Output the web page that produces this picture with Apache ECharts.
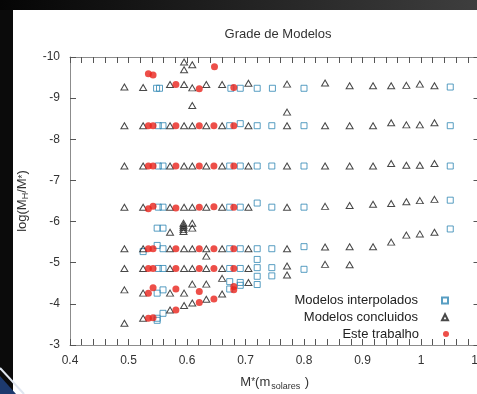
<!DOCTYPE html>
<html>
<head>
<meta charset="utf-8">
<script src="https://cdn.jsdelivr.net/npm/echarts@6/dist/echarts.min.js"></script>
<style>
  html, body { margin: 0; padding: 0; background: #0b0b0b; }
  #main { width: 477px; height: 394px; }
</style>
</head>
<body>
<div id="main"></div>
<script>
const seriesNames = ["Modelos interpolados", "Modelos concluidos", "Este trabalho"];
const xTickLabels = ["0.4", "0.5", "0.6", "0.7", "0.8", "0.9", "1", "1.1"];
const yTickLabels = ["-10", "-9", "-8", "-7", "-6", "-5", "-4", "-3"];

// [M*, log(MH/M*)]
const interpolados = [
  [0.548, -9.24], [0.553, -9.24], [0.675, -9.24], [0.691, -9.24], [0.72, -9.24], [0.746, -9.24], [0.8, -9.24], [1.05, -9.27],
  [0.551, -8.33], [0.559, -8.33], [0.673, -8.33], [0.691, -8.38], [0.72, -8.33], [0.745, -8.33], [0.8, -8.33], [1.05, -8.33],
  [0.551, -7.35], [0.559, -7.35], [0.673, -7.35], [0.691, -7.35], [0.72, -7.35], [0.745, -7.35], [0.8, -7.35], [1.05, -7.35],
  [0.551, -6.35], [0.559, -6.35], [0.673, -6.35], [0.691, -6.35], [0.72, -6.45], [0.745, -6.35], [0.8, -6.35], [1.05, -6.52],
  [0.549, -5.84], [0.559, -5.84],
  [0.525, -5.27], [0.549, -5.42], [0.559, -5.34], [0.673, -5.34], [0.691, -5.34], [0.72, -5.34], [0.745, -5.34], [0.8, -5.39], [1.05, -5.82],
  [0.72, -5.08],
  [0.551, -4.86], [0.559, -4.86], [0.673, -4.86], [0.691, -4.86], [0.72, -4.88], [0.745, -4.88], [0.8, -4.84],
  [0.72, -4.67], [0.72, -4.47], [0.745, -4.68], [0.673, -4.54], [0.673, -4.36], [0.691, -4.52], [0.691, -4.45],
  [0.549, -4.26], [0.559, -4.34],
  [0.549, -3.65], [0.549, -3.6], [0.559, -3.77]
];

const concluidos = [
  [0.493, -9.27], [0.525, -9.26], [0.571, -9.33], [0.595, -9.33], [0.609, -9.25], [0.633, -9.33], [0.66, -9.33], [0.705, -9.36],
  [0.771, -9.34], [0.836, -9.37], [0.878, -9.3], [0.918, -9.3], [0.949, -9.3], [0.975, -9.31], [0.998, -9.34], [1.023, -9.3],
  [0.595, -9.88], [0.595, -9.69], [0.609, -9.81], [0.609, -8.82], [0.771, -8.66],
  [0.493, -8.33], [0.525, -8.33], [0.571, -8.33], [0.595, -8.33], [0.609, -8.33], [0.633, -8.33], [0.66, -8.33], [0.705, -8.33],
  [0.771, -8.33], [0.836, -8.33], [0.878, -8.33], [0.918, -8.33], [0.949, -8.4], [0.975, -8.35], [0.998, -8.35], [1.023, -8.4],
  [0.493, -7.35], [0.525, -7.35], [0.571, -7.35], [0.595, -7.35], [0.609, -7.35], [0.633, -7.35], [0.66, -7.35], [0.705, -7.35],
  [0.771, -7.35], [0.836, -7.35], [0.878, -7.35], [0.918, -7.35], [0.949, -7.41], [0.975, -7.37], [0.998, -7.37], [1.023, -7.41],
  [0.493, -6.35], [0.525, -6.35], [0.571, -6.35], [0.595, -6.35], [0.609, -6.35], [0.633, -6.35], [0.66, -6.35], [0.705, -6.35],
  [0.771, -6.35], [0.836, -6.37], [0.878, -6.39], [0.918, -6.42], [0.949, -6.44], [0.975, -6.48], [0.998, -6.51], [1.023, -6.54],
  [0.571, -5.74], [0.594, -5.96], [0.594, -5.91], [0.594, -5.86], [0.594, -5.81], [0.594, -5.76], [0.609, -5.96], [0.609, -5.84],
  [0.493, -5.34], [0.525, -5.34], [0.571, -5.34], [0.595, -5.34], [0.609, -5.34], [0.633, -5.34], [0.66, -5.34], [0.705, -5.34],
  [0.771, -5.34], [0.836, -5.38], [0.878, -5.39], [0.918, -5.39], [0.949, -5.5], [0.975, -5.67], [0.998, -5.7], [1.023, -5.74],
  [0.633, -5.16],
  [0.493, -4.86], [0.525, -4.86], [0.571, -4.86], [0.595, -4.86], [0.609, -4.86], [0.633, -4.86], [0.66, -4.86], [0.705, -4.86],
  [0.771, -4.92], [0.771, -4.7], [0.836, -4.96], [0.878, -4.95],
  [0.66, -4.62], [0.66, -4.24], [0.705, -4.52],
  [0.493, -4.34], [0.525, -4.26], [0.571, -4.26], [0.595, -4.26], [0.609, -4.48], [0.633, -4.48],
  [0.493, -3.53], [0.525, -3.65], [0.571, -3.85], [0.595, -3.96], [0.609, -4.02], [0.633, -4.11]
];

const trabalho = [
  [0.534, -9.59], [0.542, -9.56], [0.647, -9.76],
  [0.581, -9.33], [0.621, -9.23], [0.68, -9.26],
  [0.534, -8.33], [0.542, -8.33], [0.581, -8.33], [0.621, -8.33], [0.646, -8.33], [0.68, -8.33],
  [0.534, -7.35], [0.542, -7.35], [0.581, -7.35], [0.621, -7.35], [0.646, -7.35], [0.68, -7.35],
  [0.534, -6.31], [0.542, -6.37], [0.581, -6.33], [0.621, -6.35], [0.646, -6.36], [0.68, -6.35],
  [0.534, -5.34], [0.542, -5.34], [0.581, -5.34], [0.621, -5.34], [0.646, -5.34], [0.68, -5.34],
  [0.534, -4.86], [0.542, -4.86], [0.581, -4.86], [0.621, -4.86], [0.646, -4.86], [0.68, -4.86],
  [0.534, -4.26], [0.542, -4.39], [0.581, -4.36], [0.621, -4.3], [0.68, -4.42], [0.68, -4.34],
  [0.534, -3.65], [0.542, -3.66], [0.581, -3.85], [0.621, -4.03], [0.646, -4.12]
];

const font = "Liberation Sans";
const axisGray = "#8c8c8c";

const xAxisBase = {
  type: "value", min: 0.4, max: 1.1, interval: 0.1,
  axisLine: { lineStyle: { color: axisGray } },
  axisTick: { inside: true, length: 6, lineStyle: { color: "#555" } },
  minorTick: { show: true, splitNumber: 5, length: 6, lineStyle: { color: "#555" } },
  splitLine: { show: false }
};
const yAxisBase = {
  type: "value", min: -10, max: -3, interval: 1, inverse: true,
  axisLine: { show: true, lineStyle: { color: axisGray } },
  axisTick: { show: true, inside: true, length: 6, lineStyle: { color: "#555" } },
  splitLine: { show: false }
};

const chart = echarts.init(document.getElementById("main"));
chart.setOption({
  animation: false,
  backgroundColor: "#0b0b0b",
  textStyle: { fontFamily: font },
  graphic: [
    { type: "rect", z: -10, shape: { x: 0, y: 0, width: 477, height: 10 },
      style: { fill: new echarts.graphic.LinearGradient(0, 0, 1, 0, [
        { offset: 0, color: "#050505" }, { offset: 1, color: "#3e3e3e" }]) } },
    { type: "rect", z: -10, shape: { x: 13, y: 10, width: 464, height: 384 }, style: { fill: "#fff" } },
    { type: "polygon", z: -9, shape: { points: [[0, 376], [0, 394], [16, 394]] }, style: { fill: "#1d3a6e" } },
    { type: "line", z: -9, shape: { x1: 0, y1: 368, x2: 24, y2: 394 }, style: { stroke: "#dfe6f0", lineWidth: 2 } }
  ],
  title: {
    text: "Grade de Modelos", left: 273, top: 23, textAlign: "center",
    textStyle: { fontSize: 13, fontWeight: "normal", color: "#333", fontFamily: font }
  },
  legend: seriesNames.map((n, i) => ({
    data: [n], orient: "vertical", align: "right", right: 28, top: 294 + i * 16.8,
    padding: 0, itemWidth: 6, itemHeight: 6, itemGap: 0,
    textStyle: { fontSize: 13, color: "#222", fontFamily: font, padding: [0, 19, 0, 0] }
  })),
  grid: { left: 70, right: -2.5, top: 57, bottom: 49, outerBoundsMode: "none" },
  xAxis: [
    Object.assign({}, xAxisBase, {
      position: "bottom",
      axisLabel: { color: "#333", fontSize: 12, margin: 10, formatter: v => xTickLabels[Math.round((v - 0.4) * 10)] },
      name: "{n|M}{a|*}{n|(m}{s|solares}{n| )}", nameLocation: "middle", nameGap: 29,
      nameTextStyle: { rich: {
        n: { fontSize: 13, color: "#333", fontFamily: font },
        a: { fontSize: 10, color: "#333", fontFamily: font },
        s: { fontSize: 9, color: "#333", fontFamily: font, padding: [8, 1, 0, 1] }
      } }
    }),
    Object.assign({}, xAxisBase, { position: "top", axisLabel: { show: false } })
  ],
  yAxis: [
    Object.assign({}, yAxisBase, {
      position: "left",
      axisLabel: { color: "#333", fontSize: 12, margin: 10, formatter: v => yTickLabels[Math.round(v + 10)] },
      name: "{n|log(M}{s|H}{n|/M}{a|*}{n|)}", nameLocation: "middle", nameGap: 40, nameRotate: 90,
      nameTextStyle: { rich: {
        n: { fontSize: 13, color: "#333", fontFamily: font },
        s: { fontSize: 9, color: "#333", fontFamily: font, padding: [7, 0, 0, 0] },
        a: { fontSize: 10, color: "#333", fontFamily: font, padding: [3, 0, 0, 0] }
      } }
    }),
    Object.assign({}, yAxisBase, { position: "right", axisLabel: { show: false } })
  ],
  series: [
    {
      name: seriesNames[0], type: "scatter", data: interpolados, symbol: "rect", symbolSize: 6,
      itemStyle: { color: "rgba(255,255,255,0)", borderColor: "#2e86b3", borderWidth: 1 }
    },
    {
      name: seriesNames[1], type: "scatter", data: concluidos, symbol: "triangle", symbolSize: [7, 6],
      itemStyle: { color: "rgba(255,255,255,0)", borderColor: "#1a1a1a", borderWidth: 1 }
    },
    {
      name: seriesNames[2], type: "scatter", data: trabalho, symbol: "circle", symbolSize: 7,
      itemStyle: { color: "#e8231b" }
    }
  ]
});
</script>
</body>
</html>
